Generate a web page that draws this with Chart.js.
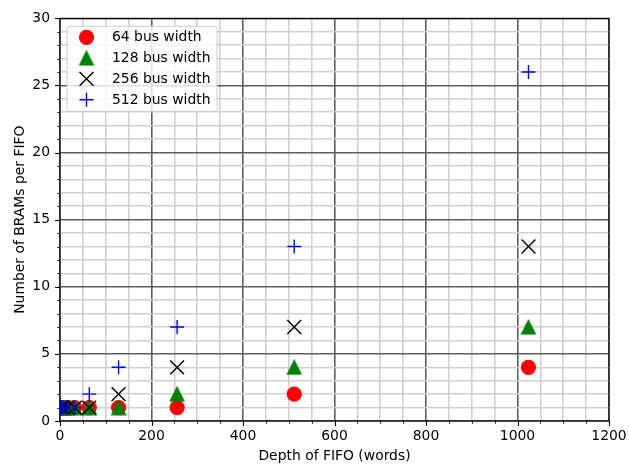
<!DOCTYPE html>
<html>
<head>
<meta charset="utf-8">
<script src="https://cdn.jsdelivr.net/npm/chart.js@4/dist/chart.umd.min.js"></script>
<style>
  html, body { margin: 0; padding: 0; background: #fff; }
  canvas { display: block; }
</style>
</head>
<body>
<canvas id="c" width="629" height="465"></canvas>
<script>
// ---- data ----
const fifoDepth = [1, 2, 4, 8, 16, 32, 64, 128, 256, 512, 1024];
const bus64  = [1, 1, 1, 1, 1, 1, 1, 1, 1, 2, 4];
const bus128 = [1, 1, 1, 1, 1, 1, 1, 1, 2, 4, 7];
const bus256 = [1, 1, 1, 1, 1, 1, 1, 2, 4, 7, 13];
const bus512 = [1, 1, 1, 1, 1, 1, 2, 4, 7, 13, 26];
const seriesLabels = ['64 bus width', '128 bus width', '256 bus width', '512 bus width'];
const xTickLabels = [0, 200, 400, 600, 800, 1000, 1200];
const yTickLabels = [0, 5, 10, 15, 20, 25, 30];

const FONT = 'DejaVu Sans';
const FS = 13.9;

function pts(ys) { return fifoDepth.map((x, i) => ({ x: x, y: ys[i] })); }

// matplotlib-like triangle marker as an image
function triangleImg(color) {
  const c = document.createElement('canvas');
  c.width = 16; c.height = 16;
  const g = c.getContext('2d');
  g.fillStyle = color; g.strokeStyle = color; g.lineWidth = 1.2;
  g.beginPath();
  g.moveTo(8, 1.1); g.lineTo(1.1, 14.9); g.lineTo(14.9, 14.9); g.closePath();
  g.fill(); g.stroke();
  return c;
}

const datasets = [
  { label: seriesLabels[0], data: pts(bus64), pointStyle: 'circle', pointRadius: 7,
    backgroundColor: '#ff0000', borderColor: '#ff0000', pointBorderWidth: 1.2 },
  { label: seriesLabels[1], data: pts(bus128), pointStyle: triangleImg('#008000'), pointRadius: 7,
    backgroundColor: '#008000', borderColor: '#008000', pointBorderWidth: 1.2 },
  { label: seriesLabels[2], data: pts(bus256), pointStyle: 'crossRot', pointRadius: 9.8,
    backgroundColor: '#000000', borderColor: '#000000', pointBorderWidth: 1.4 },
  { label: seriesLabels[3], data: pts(bus512), pointStyle: 'cross', pointRadius: 7,
    backgroundColor: '#0000ff', borderColor: '#0000ff', pointBorderWidth: 1.4 }
].map((d, i) => Object.assign(d, { showLine: false, clip: 0, order: 3 - i, pointHoverRadius: d.pointRadius }));

const MAJOR = '#5e5e5e', MINOR = '#d0d0d0';

const framePlugin = {
  id: 'frame',
  afterDraw(chart) {
    const ctx = chart.ctx, a = chart.chartArea;
    const xs = chart.scales.x, ys = chart.scales.y;
    ctx.save();
    ctx.strokeStyle = '#000';
    // ticks
    xs.ticks.forEach(t => {
      const major = xTickLabels.includes(t.value);
      const px = Math.round(xs.getPixelForValue(t.value)) + 0.5;
      ctx.lineWidth = major ? 1.1 : 0.8;
      ctx.beginPath(); ctx.moveTo(px, a.bottom); ctx.lineTo(px, a.bottom + (major ? 4.9 : 2.8)); ctx.stroke();
    });
    ys.ticks.forEach(t => {
      const major = yTickLabels.includes(t.value);
      const py = Math.round(ys.getPixelForValue(t.value)) + 0.5;
      ctx.lineWidth = major ? 1.1 : 0.8;
      ctx.beginPath(); ctx.moveTo(a.left, py); ctx.lineTo(a.left - (major ? 4.9 : 2.8), py); ctx.stroke();
    });
    // spines
    ctx.lineWidth = 1.1;
    ctx.strokeRect(a.left, a.top, a.right - a.left, a.bottom - a.top);

    // legend
    const lx = a.left + 7, ly = a.top + 8, lw = 150, lh = 85;
    ctx.beginPath();
    if (ctx.roundRect) ctx.roundRect(lx, ly, lw, lh, 3); else ctx.rect(lx, ly, lw, lh);
    ctx.fillStyle = 'rgba(255,255,255,0.8)';
    ctx.fill();
    ctx.lineWidth = 1;
    ctx.strokeStyle = '#cccccc';
    ctx.stroke();
    ctx.font = FS + 'px "' + FONT + '"';
    ctx.textBaseline = 'middle';
    ctx.textAlign = 'left';
    chart.data.datasets.forEach((ds, i) => {
      const cy = ly + 11 + i * 20.8;
      const cx = lx + 19.5;
      ctx.fillStyle = ds.backgroundColor;
      ctx.strokeStyle = ds.borderColor;
      ctx.lineWidth = ds.pointBorderWidth;
      Chart.helpers.drawPoint(ctx, { pointStyle: ds.pointStyle, radius: ds.pointRadius, rotation: 0, borderWidth: ds.pointBorderWidth }, cx, cy);
      ctx.fillStyle = '#000';
      ctx.fillText(ds.label, lx + 45, cy + 0.5);
    });
    ctx.restore();
  }
};

new Chart(document.getElementById('c'), {
  type: 'scatter',
  data: { datasets: datasets },
  plugins: [framePlugin],
  options: {
    responsive: false,
    devicePixelRatio: 1,
    animation: false,
    events: [],
    layout: { padding: { left: 0, top: 17, right: 20, bottom: 0 } },
    plugins: { legend: { display: false }, tooltip: { enabled: false } },
    scales: {
      x: {
        type: 'linear', min: 0, max: 1200,
        afterFit(s) { s.height = 44; },
        ticks: {
          stepSize: 50, autoSkip: false, maxRotation: 0, padding: 0,
          color: '#000', font: { family: FONT, size: FS },
          callback: v => (xTickLabels.includes(v) ? String(v) : '')
        },
        grid: {
          drawTicks: true, tickLength: 7, tickColor: 'rgba(0,0,0,0)',
          color: c => (xTickLabels.includes(c.tick.value) ? MAJOR : MINOR),
          lineWidth: 1.6
        },
        border: { display: false },
        title: { display: true, text: 'Depth of FIFO (words)', color: '#000',
                 font: { family: FONT, size: FS }, padding: { top: 0, bottom: 0 } }
      },
      y: {
        type: 'linear', min: 0, max: 30,
        afterFit(s) { s.width = 60; },
        ticks: {
          stepSize: 1, autoSkip: false, padding: 10,
          color: '#000', font: { family: FONT, size: FS },
          callback: v => (yTickLabels.includes(v) ? String(v) : '')
        },
        grid: {
          drawTicks: false,
          color: c => (yTickLabels.includes(c.tick.value) ? MAJOR : MINOR),
          lineWidth: 1.6
        },
        border: { display: false },
        title: { display: true, text: 'Number of BRAMs per FIFO', color: '#000',
                 font: { family: FONT, size: FS }, padding: { top: 12, bottom: 0 } }
      }
    }
  }
});
</script>
</body>
</html>
